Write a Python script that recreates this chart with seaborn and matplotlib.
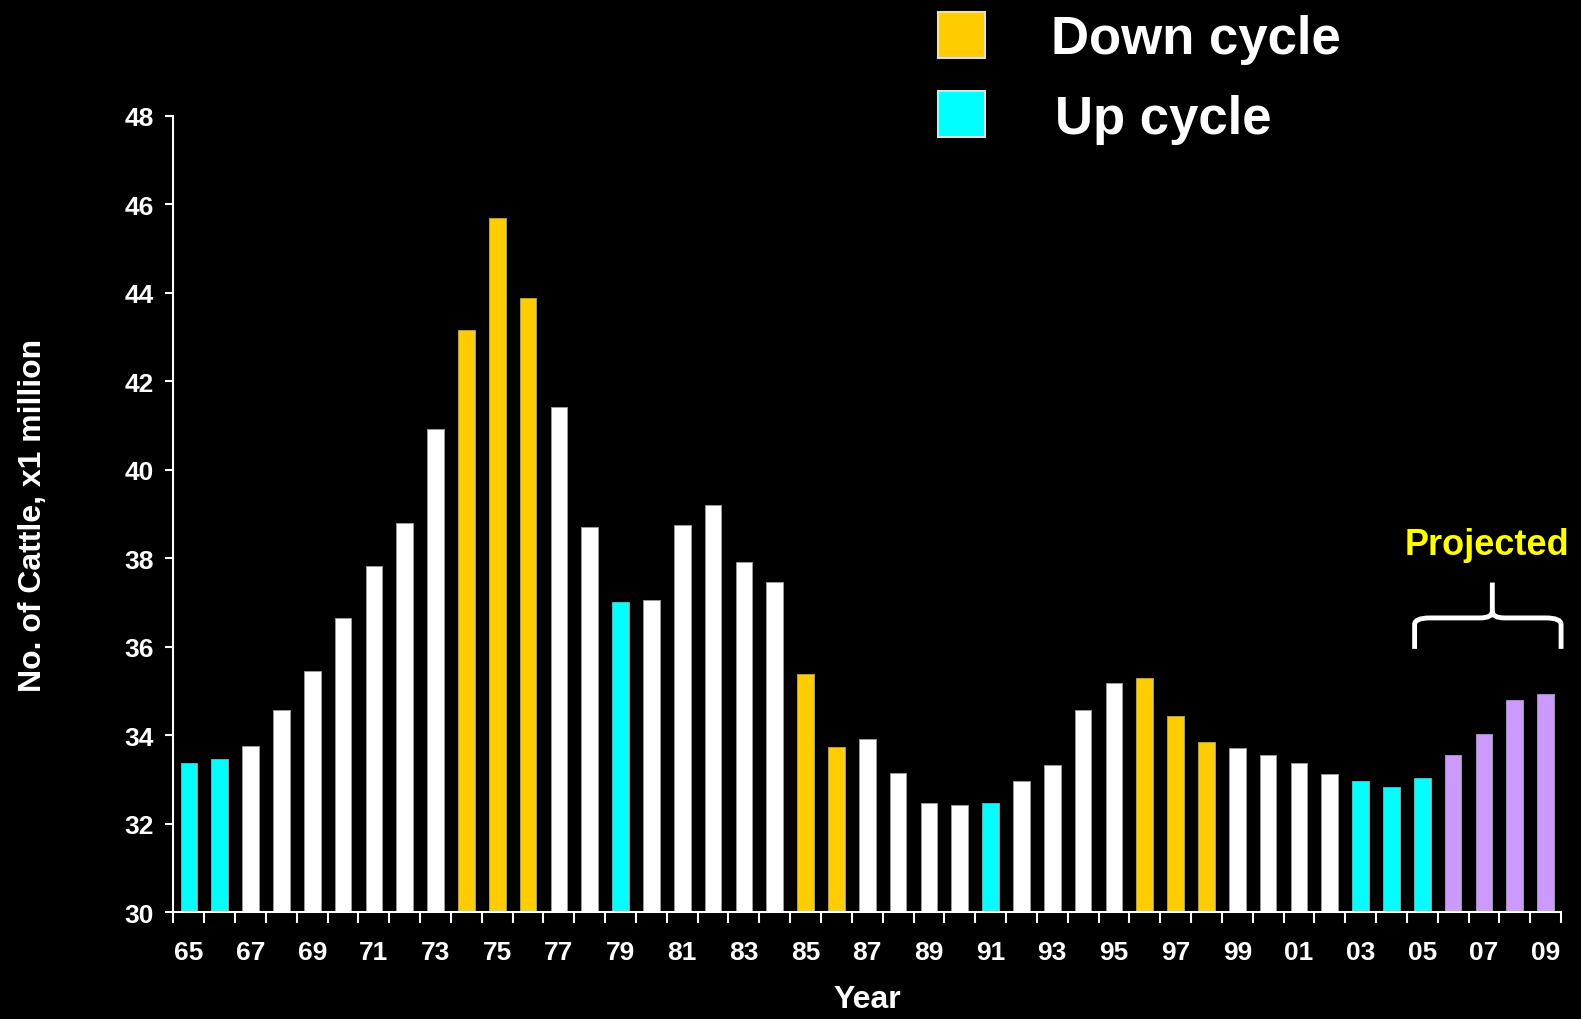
import numpy as np
import pandas as pd
import seaborn as sns
import matplotlib.pyplot as plt
from matplotlib.path import Path
from matplotlib.patches import PathPatch, Rectangle

# data
years = ['65', '66', '67', '68', '69', '70', '71', '72', '73', '74', '75', '76', '77', '78', '79',
         '80', '81', '82', '83', '84', '85', '86', '87', '88', '89', '90', '91', '92', '93', '94',
         '95', '96', '97', '98', '99', '00', '01', '02', '03', '04', '05', '06', '07', '08', '09']
cattle = [33.38, 33.46, 33.75, 34.56, 35.46, 36.65, 37.83, 38.79, 40.93, 43.16, 45.70, 43.88, 41.41, 38.71, 37.02,
          37.06, 38.75, 39.21, 37.92, 37.47, 35.38, 33.74, 33.92, 33.15, 32.46, 32.42, 32.46, 32.97, 33.33, 34.57,
          35.17, 35.30, 34.43, 33.84, 33.70, 33.56, 33.38, 33.11, 32.97, 32.83, 33.02, 33.56, 34.02, 34.80, 34.93]
phase = ['up', 'up', 'none', 'none', 'none', 'none', 'none', 'none', 'none', 'down', 'down', 'down', 'none', 'none', 'up',
         'none', 'none', 'none', 'none', 'none', 'down', 'down', 'none', 'none', 'none', 'none', 'up', 'none', 'none', 'none',
         'none', 'down', 'down', 'down', 'none', 'none', 'none', 'none', 'up', 'up', 'up', 'proj', 'proj', 'proj', 'proj']

colors = {'up': '#00FFFF', 'down': '#FFCC00', 'none': '#FFFFFF', 'proj': '#CC99FF'}

df = pd.DataFrame({'Year': years, 'Cattle': cattle, 'Phase': phase})

plt.rcParams['font.family'] = ['Liberation Sans', 'DejaVu Sans']
plt.rcParams['font.weight'] = 'bold'

fig = plt.figure(figsize=(15.81, 10.2), dpi=100, facecolor='black')
ax = fig.add_axes([0.1097, 0.1049, 0.8777, 0.7804])
ax.set_facecolor('black')

sns.barplot(data=df, x='Year', y='Cattle', hue='Phase', palette=colors, dodge=False, saturation=1,
            legend=False, width=0.54, order=years, edgecolor='#9a9a9a', linewidth=0.7, ax=ax)

ax.set_xlim(-0.5, len(years) - 0.5)
ax.set_ylim(30, 48)
ax.set_yticks(np.arange(30, 49, 2))

# labels every other year, tick marks between bars
ax.set_xticks(np.arange(0, len(years), 2))
ax.set_xticklabels(years[::2])
ax.set_xticks(np.arange(-0.5, len(years), 1), minor=True)
ax.tick_params(axis='x', which='major', length=0, pad=20, colors='white', labelsize=19)
ax.tick_params(axis='x', which='minor', length=8, width=1.5, color='white', direction='out')
ax.tick_params(axis='y', length=6, width=1.5, colors='white', labelsize=19, pad=8)

for s in ['top', 'right']:
    ax.spines[s].set_visible(False)
for s in ['left', 'bottom']:
    ax.spines[s].set_color('white')
    ax.spines[s].set_linewidth(1.5)

ax.set_xlabel('Year', color='white', fontsize=23, fontweight='bold')
ax.set_ylabel('No. of Cattle, x1 million', color='white', fontsize=23, fontweight='bold')
ax.yaxis.set_label_coords(-0.0905, 0.5)
ax.xaxis.set_label_coords(0.5, -0.09)

# brace over projected years
x0, x1, xm = 39.75, 44.5, 42.27
yb, yh, yt = 35.95, 36.65, 37.45
verts = [(x0, yb), (x0, yh - 0.15), (x0, yh), (x0 + 0.5, yh),
         (xm - 0.4, yh), (xm, yh), (xm, yh + 0.15), (xm, yt),
         (xm, yh + 0.15), (xm, yh), (xm + 0.4, yh),
         (x1 - 0.5, yh), (x1, yh), (x1, yh - 0.15), (x1, yb)]
codes = [Path.MOVETO, Path.LINETO, Path.CURVE3, Path.CURVE3,
         Path.LINETO, Path.CURVE3, Path.CURVE3, Path.LINETO,
         Path.MOVETO, Path.CURVE3, Path.CURVE3,
         Path.LINETO, Path.CURVE3, Path.CURVE3, Path.LINETO]
ax.add_patch(PathPatch(Path(verts, codes), facecolor='none', edgecolor='white', lw=3.5, clip_on=False))
ax.text(42.1, 38.3, 'Projected', color='#FFFF00', fontsize=26, fontweight='bold', ha='center', va='center')

# legend boxes at the top
fig.patches.append(Rectangle((0.5933, 0.9426), 0.0297, 0.0451, transform=fig.transFigure,
                             facecolor=colors['down'], edgecolor='#dddddd', lw=1.5))
fig.patches.append(Rectangle((0.5933, 0.8647), 0.0297, 0.0451, transform=fig.transFigure,
                             facecolor=colors['up'], edgecolor='#dddddd', lw=1.5))
fig.text(0.6647, 0.961, 'Down cycle', color='white', fontsize=38, fontweight='bold', va='center')
fig.text(0.667, 0.882, 'Up cycle', color='white', fontsize=38, fontweight='bold', va='center')

fig.savefig('out.png', dpi=100, facecolor='black')
